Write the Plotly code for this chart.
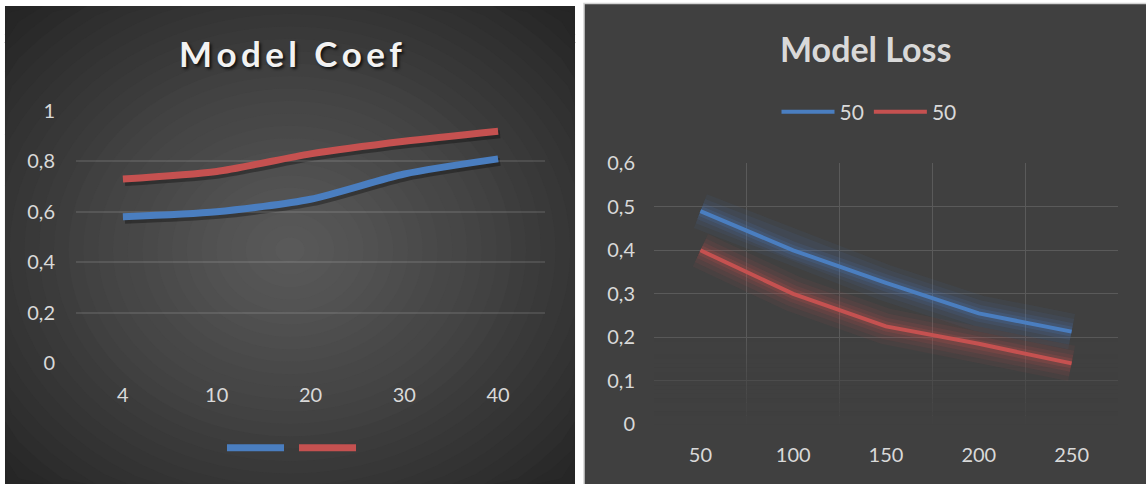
import math
import plotly.graph_objects as go

# ---------------- data ----------------
coef_categories = ["4", "10", "20", "30", "40"]
coef_blue = [0.58, 0.60, 0.65, 0.75, 0.81]
coef_red = [0.73, 0.76, 0.83, 0.88, 0.92]

loss_categories = ["50", "100", "150", "200", "250"]
loss_blue = [0.49, 0.40, 0.325, 0.255, 0.213]
loss_red = [0.40, 0.30, 0.225, 0.185, 0.14]
loss_names = ["50", "50"]

W, H = 1146, 484
BLUE = "#4a7ec0"
RED = "#c55150"
FONT = "Lato"
TICK_COLOR = "#d9d9d9"


def px(x):
    return x / W


def py(y):
    return 1 - y / H


fig = go.Figure()

# shadows of left chart lines (drawn on a slightly offset copy of the axes)
for vals in (coef_blue, coef_red):
    fig.add_trace(go.Scatter(x=coef_categories, y=vals, mode="lines",
                             line=dict(color="rgba(0,0,0,0.32)", width=8, shape="spline", smoothing=0.7),
                             xaxis="x", yaxis="y", showlegend=False, hoverinfo="skip"))

# left chart main lines
fig.add_trace(go.Scatter(x=coef_categories, y=coef_blue, mode="lines", name="",
                         line=dict(color=BLUE, width=7, shape="spline", smoothing=0.7),
                         xaxis="x2", yaxis="y2", legend="legend"))
fig.add_trace(go.Scatter(x=coef_categories, y=coef_red, mode="lines", name="",
                         line=dict(color=RED, width=7, shape="spline", smoothing=0.7),
                         xaxis="x2", yaxis="y2", legend="legend"))

# right chart glows
for vals, rgb in ((loss_blue, "74,126,192"), (loss_red, "197,81,80")):
    for wdt, op in ((36, 0.07), (26, 0.09), (17, 0.13), (10, 0.18)):
        fig.add_trace(go.Scatter(x=loss_categories, y=vals, mode="lines",
                                 line=dict(color=f"rgba({rgb},{op})", width=wdt),
                                 xaxis="x3", yaxis="y3", showlegend=False, hoverinfo="skip"))

fig.add_trace(go.Scatter(x=loss_categories, y=loss_blue, mode="lines", name=loss_names[0],
                         line=dict(color=BLUE, width=4),
                         xaxis="x3", yaxis="y3", legend="legend2"))
fig.add_trace(go.Scatter(x=loss_categories, y=loss_red, mode="lines", name=loss_names[1],
                         line=dict(color=RED, width=4),
                         xaxis="x3", yaxis="y3", legend="legend2"))

tickfont = dict(family=FONT, size=20, color=TICK_COLOR)

# ---------- left panel: radial gradient built from clipped ellipses ----------
PL, PR, PT, PB = 5, 575, 6, 484
CX, CY = 290, 250
RX, RY = 285, 240
C_CENTER, C_EDGE = 0x5a, 0x25


def ellipse_path(s):
    pts = []
    for k in range(72):
        a = 2 * math.pi * k / 72
        x = min(max(CX + s * RX * math.cos(a), PL), PR)
        y = min(max(CY + s * RY * math.sin(a), PT), PB)
        pts.append(f"{px(x):.5f},{py(y):.5f}")
    return "M" + "L".join(pts) + "Z"


shapes = [
    dict(type="rect", xref="paper", yref="paper", x0=px(PL), x1=px(PR), y0=py(PT), y1=0,
         fillcolor="#252525", line=dict(width=0), layer="below"),
]
NS = 28
for k in range(NS):
    s = 1.45 * (1 - k / NS)
    t = min(s / 1.42, 1.0) ** 1.15
    v = int(round(C_CENTER + (C_EDGE - C_CENTER) * t))
    shapes.append(dict(type="path", xref="paper", yref="paper", path=ellipse_path(s),
                       fillcolor=f"rgb({v},{v},{v})", line=dict(width=0), layer="below"))

shapes.append(dict(type="rect", xref="paper", yref="paper", x0=px(584), x1=1.01, y0=py(3.5), y1=-0.01,
                   fillcolor="#404040", line=dict(color="#d4d4d4", width=1.5), layer="below"))

# fade bands for the lower part of the right grid
nb = 20
for k in range(nb):
    y0 = 0.2 * k / nb
    y1 = 0.2 * (k + 1) / nb
    op = max(0.0, 1 - ((y0 + y1) / 2) / 0.2) ** 0.8
    shapes.append(dict(type="rect", xref="x3", yref="y3", x0=-0.53, x1=4.53,
                       y0=y0 - (0.02 if k == 0 else 0), y1=y1,
                       fillcolor="#404040", opacity=op, line=dict(width=0), layer="between"))

noauto = dict(automargin=False)

fig.update_layout(
    width=W, height=H,
    margin=dict(l=0, r=0, t=0, b=0, autoexpand=False),
    paper_bgcolor="white",
    plot_bgcolor="rgba(0,0,0,0)",
    separators=", ",
    showlegend=True,
    shapes=shapes,
    xaxis=dict(domain=[px(78), px(547)], anchor="y", type="category", range=[-0.5, 4.5], visible=False, **noauto),
    yaxis=dict(domain=[py(366), py(114)], anchor="x", range=[0, 1], visible=False, **noauto),
    xaxis2=dict(domain=[px(76), px(545)], anchor="y2", type="category", range=[-0.5, 4.5],
                showgrid=False, zeroline=False, showline=False, ticks="",
                tickfont=tickfont, ticklabelstandoff=18, **noauto),
    yaxis2=dict(domain=[py(363), py(111)], anchor="x2", range=[0, 1], dtick=0.2,
                showgrid=True, gridcolor="rgba(255,255,255,0.11)", gridwidth=1.5,
                zeroline=False, showline=False, ticks="",
                tickfont=tickfont, ticklabelstandoff=20, **noauto),
    xaxis3=dict(domain=[px(654), px(1118)], anchor="y3", type="category", range=[-0.5, 4.5],
                tickson="boundaries", showgrid=True, gridcolor="#5a5a5a", gridwidth=1,
                zeroline=False, showline=False, ticks="",
                tickfont=tickfont, ticklabelstandoff=17, **noauto),
    yaxis3=dict(domain=[py(424.3), py(163.3)], anchor="x3", range=[0, 0.6], dtick=0.1,
                showgrid=True, gridcolor="#5a5a5a", gridwidth=1,
                zeroline=False, showline=False, ticks="",
                tickfont=tickfont, ticklabelstandoff=18, **noauto),
    legend=dict(orientation="h", x=px(294), y=py(448), xanchor="center", yanchor="middle",
                bgcolor="rgba(0,0,0,0)", itemwidth=57, font=dict(family=FONT, size=18, color=TICK_COLOR),
                itemclick=False),
    legend2=dict(orientation="h", x=px(869), y=py(112), xanchor="center", yanchor="middle",
                 bgcolor="rgba(0,0,0,0)", itemwidth=53, font=dict(family=FONT, size=21, color=TICK_COLOR),
                 itemclick=False),
    annotations=[
        dict(text="M\u2009o\u2009d\u2009e\u2009l\u2009 \u2009C\u2009o\u2009e\u2009f", xref="paper", yref="paper",
             x=px(290), y=py(53), xanchor="center", yanchor="middle", showarrow=False,
             font=dict(family=FONT, size=35, weight=700, color="#f2f2f2",
                       shadow="2px 2px 3px rgba(0,0,0,0.75)")),
        dict(text="Model Loss", xref="paper", yref="paper",
             x=px(866), y=py(48), xanchor="center", yanchor="middle", showarrow=False,
             font=dict(family=FONT, size=34, weight=700, color="#d9d9d9")),
    ],
)

fig.write_html("out.html")
